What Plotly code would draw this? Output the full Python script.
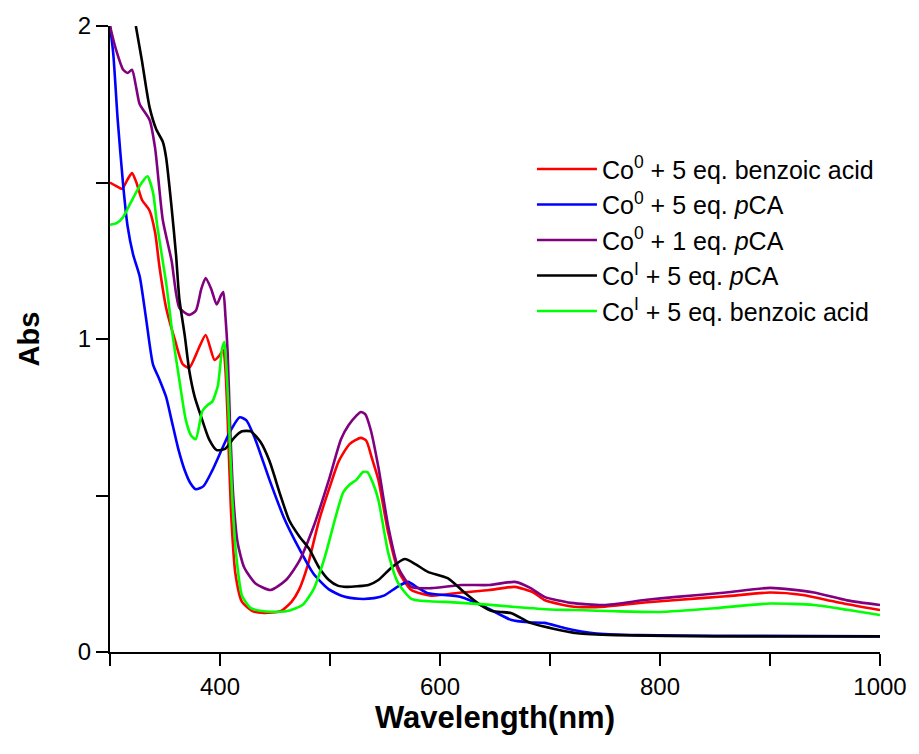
import plotly.graph_objects as go

# ---- data ----
red_nm = [300, 305, 311, 316, 320, 324, 329, 336, 341, 345, 351, 359, 366, 372, 380, 387, 395, 399, 403, 405, 407, 410, 414, 420, 430, 440, 455, 465, 472, 480, 490, 500, 508, 518, 528, 533, 538, 544, 553, 562, 574, 592, 619, 645, 668, 685, 695, 710, 725, 750, 786, 815, 860, 900, 930, 960, 1000]
red_abs = [1.50, 1.49, 1.48, 1.51, 1.53, 1.50, 1.445, 1.41, 1.34, 1.23, 1.10, 0.997, 0.92, 0.908, 0.965, 1.013, 0.933, 0.945, 0.965, 0.90, 0.74, 0.45, 0.25, 0.16, 0.13, 0.125, 0.13, 0.16, 0.20, 0.28, 0.42, 0.53, 0.61, 0.665, 0.684, 0.675, 0.62, 0.55, 0.38, 0.26, 0.198, 0.18, 0.19, 0.198, 0.208, 0.19, 0.166, 0.152, 0.144, 0.145, 0.158, 0.166, 0.178, 0.19, 0.182, 0.16, 0.134]

blue_nm = [300, 303, 307, 312, 316, 321, 327, 333, 339, 345, 351, 356, 362, 368, 373, 378, 385, 393, 402, 410, 418, 424, 432, 445, 458, 472, 485, 499, 512, 526, 540, 549, 562, 571, 580, 589, 619, 641, 665, 680, 695, 713, 740, 780, 850, 1000]
blue_abs = [2.0, 1.91, 1.70, 1.49, 1.36, 1.27, 1.20, 1.06, 0.92, 0.87, 0.815, 0.74, 0.65, 0.58, 0.54, 0.52, 0.53, 0.58, 0.65, 0.71, 0.75, 0.74, 0.68, 0.55, 0.43, 0.33, 0.25, 0.20, 0.178, 0.17, 0.172, 0.18, 0.21, 0.224, 0.205, 0.188, 0.176, 0.144, 0.102, 0.095, 0.093, 0.077, 0.06, 0.054, 0.052, 0.05]

purple_nm = [300, 305, 312, 316, 320, 324, 327, 336, 341, 348, 356, 363, 372, 378, 383, 387, 392, 397, 401, 403, 405, 407, 409, 412, 416, 422, 432, 446, 460, 472, 485, 499, 510, 517, 524, 528, 532, 537, 544, 553, 562, 574, 592, 619, 645, 668, 682, 695, 719, 749, 786, 815, 860, 900, 940, 970, 1000]
purple_abs = [2.0, 1.93, 1.86, 1.85, 1.86, 1.80, 1.75, 1.70, 1.61, 1.38, 1.25, 1.10, 1.077, 1.09, 1.16, 1.195, 1.16, 1.11, 1.14, 1.15, 1.07, 0.955, 0.74, 0.50, 0.35, 0.27, 0.22, 0.198, 0.23, 0.29, 0.40, 0.55, 0.68, 0.725, 0.755, 0.767, 0.76, 0.71, 0.59, 0.40, 0.27, 0.208, 0.204, 0.214, 0.214, 0.224, 0.205, 0.176, 0.157, 0.15, 0.166, 0.176, 0.19, 0.205, 0.19, 0.165, 0.15]

black_nm = [323.5, 329, 333, 336, 342, 348, 351, 356, 360, 363, 368, 372, 377, 383, 390, 397, 405, 413, 420, 428, 437, 445, 455, 463, 472, 481, 490, 499, 507, 515, 525, 535, 544, 556, 568, 578, 589, 607, 623, 637, 648, 655, 665, 682, 700, 725, 760, 850, 1000]
black_abs = [2.0, 1.89, 1.80, 1.74, 1.67, 1.63, 1.58, 1.42, 1.27, 1.13, 1.01, 0.90, 0.815, 0.75, 0.68, 0.645, 0.65, 0.685, 0.705, 0.705, 0.67, 0.61, 0.50, 0.42, 0.37, 0.33, 0.27, 0.23, 0.212, 0.208, 0.21, 0.214, 0.23, 0.27, 0.297, 0.28, 0.256, 0.236, 0.188, 0.15, 0.13, 0.128, 0.124, 0.093, 0.077, 0.06, 0.054, 0.05, 0.05]

green_nm = [300, 306, 312, 318, 324, 329, 334, 339, 343, 351, 357, 363, 369, 374, 378, 384, 389, 393, 398, 402, 404, 406, 408, 411, 415, 420, 428, 440, 460, 475, 485, 495, 505, 512, 518, 524, 530, 534, 539, 544, 553, 562, 574, 590, 605, 640, 668, 700, 725, 760, 800, 850, 900, 940, 970, 1000]
green_abs = [1.365, 1.37, 1.39, 1.43, 1.47, 1.50, 1.52, 1.47, 1.36, 1.18, 1.01, 0.87, 0.74, 0.69, 0.68, 0.77, 0.79, 0.80, 0.85, 0.97, 0.99, 0.90, 0.75, 0.50, 0.30, 0.18, 0.14, 0.13, 0.13, 0.15, 0.20, 0.30, 0.43, 0.51, 0.535, 0.55, 0.575, 0.575, 0.54, 0.486, 0.316, 0.22, 0.17, 0.162, 0.16, 0.152, 0.144, 0.136, 0.134, 0.13, 0.128, 0.14, 0.155, 0.15, 0.135, 0.118]

x_major_ticks = [400, 600, 800, 1000]
x_minor_ticks = [300, 500, 700, 900]
y_major_ticks = [0, 1, 2]
y_minor_ticks = [0.5, 1.5]

series = [
    ("Co<sup>0</sup> + 5 eq. benzoic acid", red_nm, red_abs, "#FF0000"),
    ("Co<sup>0</sup> + 5 eq. <i>p</i>CA", blue_nm, blue_abs, "#0000FF"),
    ("Co<sup>0</sup> + 1 eq. <i>p</i>CA", purple_nm, purple_abs, "#800080"),
    ("Co<sup>I</sup> + 5 eq. <i>p</i>CA", black_nm, black_abs, "#000000"),
    ("Co<sup>I</sup> + 5 eq. benzoic acid", green_nm, green_abs, "#00FF00"),
]

FONT = "Liberation Sans, Arial, sans-serif"

fig = go.Figure()
for name, x, y, c in series:
    fig.add_trace(go.Scatter(x=x, y=y, name=name, mode="lines",
                             line=dict(color=c, width=2.6, shape="spline", smoothing=0.6)))

axis_common = dict(showline=True, linecolor="black", linewidth=2, mirror=False,
                   showgrid=False, zeroline=False, ticks="outside", ticklen=12,
                   tickwidth=2, tickcolor="black",
                   tickfont=dict(family=FONT, size=24, color="black"))

fig.update_xaxes(range=[300, 1000], tickvals=x_major_ticks,
                 minor=dict(tickvals=x_minor_ticks, ticks="outside", ticklen=12,
                            tickwidth=2, tickcolor="black"),
                 title=dict(text="<b>Wavelength(nm)</b>", font=dict(family=FONT, size=31, color="black"),
                            standoff=6),
                 **axis_common)
fig.update_yaxes(range=[0, 2], tickvals=y_major_ticks,
                 minor=dict(tickvals=y_minor_ticks, ticks="outside", ticklen=12,
                            tickwidth=2, tickcolor="black"),
                 title=dict(text="<b>Abs</b>", font=dict(family=FONT, size=29, color="black"),
                            standoff=30),
                 **axis_common)

fig.update_layout(
    width=919, height=754,
    margin=dict(l=110, r=35, t=26, b=102),
    plot_bgcolor="white", paper_bgcolor="white",
    font=dict(family=FONT, color="black"),
    legend=dict(x=0.548, y=0.808, xanchor="left", yanchor="top",
                font=dict(family=FONT, size=25, color="black"),
                bgcolor="rgba(0,0,0,0)", itemwidth=60, tracegroupgap=0),
)

# remove the browser's default 8px page margin so the figure sits at (0, 0)
fig.write_html("out.html",
               config={"displayModeBar": False},
               post_script="document.body.style.margin='0';document.body.style.overflow='hidden';")
